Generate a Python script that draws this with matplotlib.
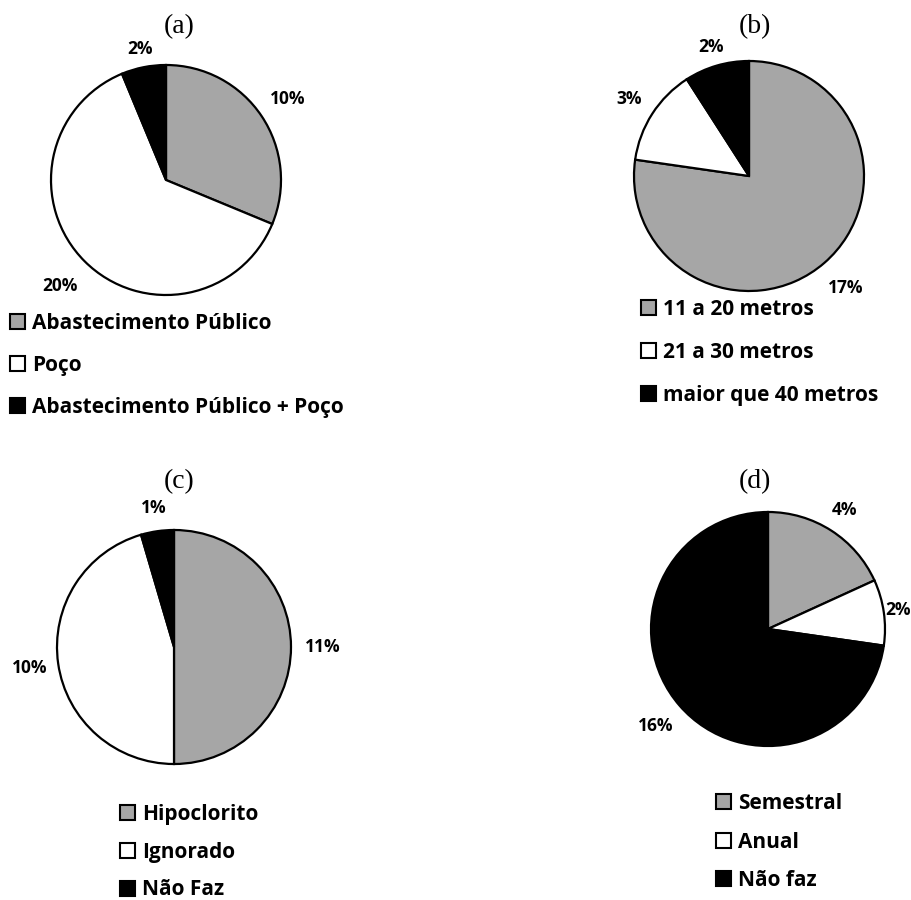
import matplotlib
matplotlib.use("Agg")
from matplotlib import pyplot as plt
from matplotlib.patches import Patch
import numpy as np

W, H = 912, 900

# data (labels in the original are counts shown with a % sign)
titles = ["(a)", "(b)", "(c)", "(d)"]

cats_a = ["Abastecimento Público", "Poço", "Abastecimento Público + Poço"]
vals_a = [10, 20, 2]

cats_b = ["11 a 20 metros", "21 a 30 metros", "maior que 40 metros"]
vals_b = [17, 3, 2]

cats_c = ["Hipoclorito", "Ignorado", "Não Faz"]
vals_c = [11, 10, 1]

cats_d = ["Semestral", "Anual", "Não faz"]
vals_d = [4, 2, 16]

colors = ["#a6a6a6", "#ffffff", "#000000"]

label_font = "Open Sans"
title_font = "Liberation Serif"


def fx(x):
    return x / W


def fy(y):
    return 1 - y / H


fig = plt.figure(figsize=(W / 100, H / 100), dpi=100)

# pie centre, radius, title centre, legend top-left (pixels), legend row spacing, label distances
layout = [
    ((166, 180), 115, (179, 27), (10, 313), 1.0, [1.27, 1.3, 1.16]),
    ((749, 176), 115, (755, 27), (641, 299), 1.05, [1.29, 1.24, 1.17]),
    ((174, 647), 117, (179, 482), (120, 804), 0.8, [1.27, 1.25, 1.2]),
    ((768, 629), 117, (755, 482), (716, 793), 0.84, [1.21, 1.12, 1.27]),
]
all_cats = [cats_a, cats_b, cats_c, cats_d]
all_vals = [vals_a, vals_b, vals_c, vals_d]

for i in range(4):
    (cx, cy), r, (tx, ty), (lx, ly), spacing, dists = layout[i]
    ax = fig.add_axes([fx(cx - r), fy(cy + r), 2 * r / W, 2 * r / H])
    vals = all_vals[i]
    wedges, texts = ax.pie(vals, colors=colors, startangle=90, counterclock=False,
                           labels=[str(v) + "%" for v in vals], labeldistance=1.25,
                           wedgeprops=dict(edgecolor="black", linewidth=1.6),
                           textprops=dict(fontfamily=label_font, fontweight="bold", fontsize=12.5))
    for w, t, d in zip(wedges, texts, dists):
        ang = np.deg2rad((w.theta1 + w.theta2) / 2)
        t.set_position((d * np.cos(ang), d * np.sin(ang)))
        t.set_ha("center")
        t.set_va("center")
    ax.set_xlim(-1, 1)
    ax.set_ylim(-1, 1)
    ax.set_aspect("equal")
    ax.axis("off")

    fig.text(fx(tx), fy(ty), titles[i], ha="center", va="center",
             fontfamily=title_font, fontsize=20)

    handles = [Patch(facecolor=c, edgecolor="black", linewidth=1.5) for c in colors]
    fig.legend(handles, all_cats[i], loc="upper left", bbox_to_anchor=(fx(lx), fy(ly)),
               frameon=False, borderpad=0, borderaxespad=0, handlelength=0.74,
               handleheight=0.74, handletextpad=0.3, labelspacing=spacing,
               prop=dict(family=label_font, weight="bold", size=15))

fig.savefig("out.png", dpi=100)
